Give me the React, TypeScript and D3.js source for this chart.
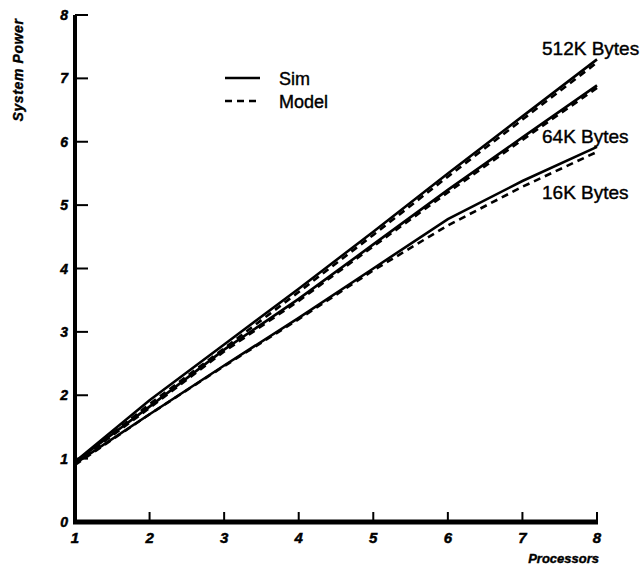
import React, { useEffect, useRef } from "react";
import * as d3 from "d3";

const processors = [1, 2, 3, 4, 5, 6, 7, 8];
const sim512 = [0.95, 1.92, 2.8, 3.68, 4.58, 5.5, 6.4, 7.3];
const model512 = [0.93, 1.86, 2.74, 3.63, 4.53, 5.45, 6.35, 7.25];
const sim64 = [0.95, 1.82, 2.72, 3.52, 4.38, 5.24, 6.07, 6.89];
const model64 = [0.93, 1.8, 2.69, 3.49, 4.35, 5.2, 6.03, 6.85];
const sim16 = [0.92, 1.7, 2.47, 3.22, 4.0, 4.78, 5.38, 5.92];
const model16 = [0.9, 1.7, 2.46, 3.2, 3.97, 4.68, 5.29, 5.84];
const yTicks = [0, 1, 2, 3, 4, 5, 6, 7, 8];
const curveLabels = ["512K Bytes", "64K Bytes", "16K Bytes"];

function App() {
  const canvas = useRef<HTMLDivElement>(null);

  function drawChart() {
    const [width, height] = [640, 565];
    const svg = d3
      .select(canvas.current)
      .append("svg")
      .attr("width", width)
      .attr("height", height)
      .style("position", "absolute")
      .style("left", 0)
      .style("top", 0)
      .style("background", "#fff");

    const xScale = d3.scaleLinear().domain([1, 8]).range([75, 597]);
    const yScale = d3.scaleLinear().domain([0, 8]).range([522, 15]);

    const tickFont = "Liberation Sans, Arial, sans-serif";

    // y axis
    svg
      .append("line")
      .attr("x1", xScale(1))
      .attr("x2", xScale(1))
      .attr("y1", yScale(8))
      .attr("y2", yScale(0) + 2)
      .attr("stroke", "#000")
      .attr("stroke-width", 4);

    svg
      .append("g")
      .selectAll("line")
      .data(yTicks.filter((d) => d > 0))
      .join("line")
      .attr("x1", xScale(1))
      .attr("x2", xScale(1) + 13)
      .attr("y1", (d) => yScale(d))
      .attr("y2", (d) => yScale(d))
      .attr("stroke", "#000")
      .attr("stroke-width", 2);

    svg
      .append("g")
      .selectAll("text")
      .data(yTicks)
      .join("text")
      .attr("x", 68)
      .attr("y", (d) => yScale(d) + 5)
      .attr("text-anchor", "end")
      .attr("font-family", tickFont)
      .attr("font-weight", "bold")
      .attr("font-style", "italic")
      .attr("font-size", 14)
      .attr("stroke", "#000")
      .attr("stroke-width", 0.5)
      .text((d) => d);

    // x axis
    svg
      .append("line")
      .attr("x1", xScale(1) - 2)
      .attr("x2", xScale(8) + 1)
      .attr("y1", yScale(0))
      .attr("y2", yScale(0))
      .attr("stroke", "#000")
      .attr("stroke-width", 5);

    svg
      .append("g")
      .selectAll("line")
      .data(processors.filter((d) => d > 1))
      .join("line")
      .attr("x1", (d) => xScale(d))
      .attr("x2", (d) => xScale(d))
      .attr("y1", yScale(0))
      .attr("y2", yScale(0) - 10)
      .attr("stroke", "#000")
      .attr("stroke-width", 2);

    svg
      .append("g")
      .selectAll("text")
      .data(processors)
      .join("text")
      .attr("x", (d) => xScale(d))
      .attr("y", 543)
      .attr("text-anchor", "middle")
      .attr("font-family", tickFont)
      .attr("font-weight", "bold")
      .attr("font-style", "italic")
      .attr("font-size", 15)
      .attr("stroke", "#000")
      .attr("stroke-width", 0.5)
      .text((d) => d);

    svg
      .append("text")
      .attr("x", 599)
      .attr("y", 563)
      .attr("text-anchor", "end")
      .attr("font-family", tickFont)
      .attr("font-weight", "bold")
      .attr("font-style", "italic")
      .attr("font-size", 13)
      .attr("stroke", "#000")
      .attr("stroke-width", 0.4)
      .text("Processors");

    svg
      .append("text")
      .attr("transform", "translate(23, 70) rotate(-90)")
      .attr("text-anchor", "middle")
      .attr("font-family", tickFont)
      .attr("font-weight", "bold")
      .attr("font-style", "italic")
      .attr("font-size", 14)
      .attr("letter-spacing", 0.6)
      .attr("stroke", "#000")
      .attr("stroke-width", 0.4)
      .text("System Power");

    // curves
    const line = d3
      .line<number>()
      .x((d, i) => xScale(processors[i]))
      .y((d) => yScale(d));

    const series = [
      { values: sim512, dash: null },
      { values: model512, dash: "7,5" },
      { values: sim64, dash: null },
      { values: model64, dash: "7,5" },
      { values: sim16, dash: null },
      { values: model16, dash: "7,5" },
    ];

    svg
      .append("g")
      .selectAll("path")
      .data(series)
      .join("path")
      .attr("d", (d) => line(d.values))
      .attr("fill", "none")
      .attr("stroke", "#000")
      .attr("stroke-width", 2.6)
      .attr("stroke-dasharray", (d) => d.dash);

    const labelY = [55, 143, 199];
    svg
      .append("g")
      .selectAll("text")
      .data(curveLabels)
      .join("text")
      .attr("x", 542)
      .attr("y", (d, i) => labelY[i])
      .attr("font-family", tickFont)
      .attr("font-size", 19)
      .attr("stroke", "#000")
      .attr("stroke-width", 0.4)
      .text((d) => d);

    // legend
    const legend = svg.append("g");
    const legendItems = [
      { name: "Sim", dash: null, y: 78 },
      { name: "Model", dash: "7,5", y: 101 },
    ];
    legend
      .selectAll("line")
      .data(legendItems)
      .join("line")
      .attr("x1", 225)
      .attr("x2", 260)
      .attr("y1", (d) => d.y)
      .attr("y2", (d) => d.y)
      .attr("stroke", "#000")
      .attr("stroke-width", 2.6)
      .attr("stroke-dasharray", (d) => d.dash);
    legend
      .selectAll("text")
      .data(legendItems)
      .join("text")
      .attr("x", 279)
      .attr("y", (d) => d.y + 7)
      .attr("font-family", tickFont)
      .attr("font-size", 18)
      .attr("stroke", "#000")
      .attr("stroke-width", 0.4)
      .text((d) => d.name);
  }

  useEffect(() => {
    if (canvas.current && canvas.current.childNodes.length === 0) {
      drawChart();
    }
  }, []);

  return <div ref={canvas}></div>;
}

export default App;
